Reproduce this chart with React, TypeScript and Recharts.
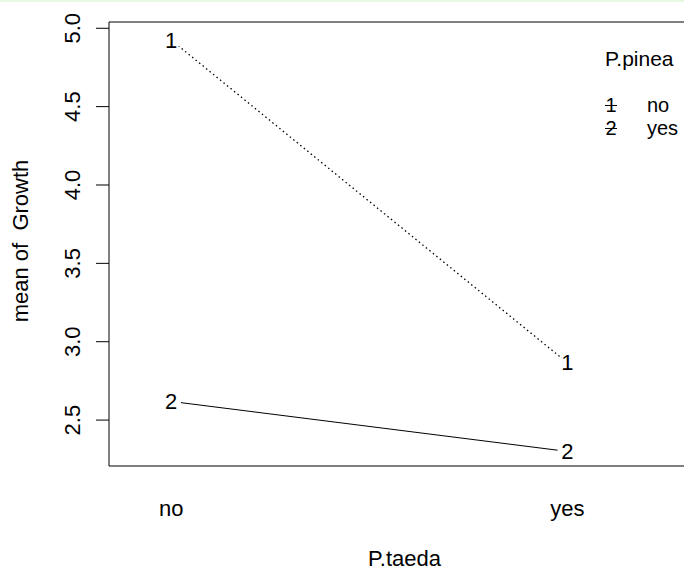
import React from 'react';
import { LineChart, Line, XAxis, YAxis, ReferenceArea } from 'recharts';

// interaction plot: mean of Growth by P.taeda, one trace per P.pinea level
const taedaLevels = ['no', 'yes'];
const pineaLevels = ['no', 'yes'];
const growthPineaNo = [4.925, 2.866];
const growthPineaYes = [2.619, 2.3];
const yTicks = [2.5, 3.0, 3.5, 4.0, 4.5, 5.0];

const X_DOMAIN: [number, number] = [0.843, 2.335];
const Y_DOMAIN: [number, number] = [2.207, 5.04];

const FONT = '"Liberation Sans", Arial, Helvetica, sans-serif';
const FS = 22;
const LEG_FS = 20;

const data = taedaLevels.map((lvl, i) => ({
  pos: i + 1,
  taeda: lvl,
  pNo: growthPineaNo[i],
  pYes: growthPineaYes[i],
}));

// R type="b": the level number sits on the point, line stops short of it
const pointLabel = (symbol: string) => (props: any) => {
  const { cx, cy, index } = props;
  const key = `pt-${symbol}-${index}`;
  if (cx == null || cy == null) return <g key={key} />;
  return (
    <g key={key}>
      <circle cx={cx} cy={cy} r={10} fill="#fff" />
      <text x={cx} y={cy} textAnchor="middle" dominantBaseline="central" fontSize={FS} fontFamily={FONT} fill="#000">
        {symbol}
      </text>
    </g>
  );
};

const YTick = (props: any) => {
  const { x, y, payload } = props;
  return (
    <text x={x} y={y} transform={`rotate(-90 ${x} ${y})`} textAnchor="middle" fontSize={FS} fontFamily={FONT} fill="#000">
      {Number(payload.value).toFixed(1)}
    </text>
  );
};

const XTick = (props: any) => {
  const { x, y, payload } = props;
  return (
    <text x={x} y={y + 50} textAnchor="middle" fontSize={FS} fontFamily={FONT} fill="#000">
      {taedaLevels[payload.value - 1]}
    </text>
  );
};

const PineaLegend = () => (
  <svg width={100} height={110} style={{ position: 'absolute', left: 595, top: 40, overflow: 'visible' }}>
    <text x={10} y={26} fontSize={LEG_FS + 1} fontFamily={FONT} fill="#000">P.pinea</text>
    {pineaLevels.map((lvl, i) => (
      <g key={lvl}>
        <text x={16} y={72 + i * 23} textAnchor="middle" fontSize={LEG_FS} fontFamily={FONT} fill="#000">{i + 1}</text>
        <line x1={10} x2={22} y1={65.5 + i * 23} y2={65.5 + i * 23} stroke="#000" strokeWidth={1} />
        <text x={52} y={72 + i * 23} fontSize={LEG_FS} fontFamily={FONT} fill="#000">{lvl}</text>
      </g>
    ))}
  </svg>
);

export default function App() {
  return (
    <div style={{ position: 'absolute', left: 0, top: 0, width: 684, height: 571, overflow: 'hidden', background: '#fff' }}>
      <div style={{ position: 'absolute', left: 0, top: 0, width: 684, height: 2, background: '#e8f8e1' }} />
      <LineChart width={760} height={571} data={data} margin={{ top: 22, right: 60, left: 0, bottom: 0 }}>
        <XAxis
          dataKey="pos"
          type="number"
          domain={X_DOMAIN}
          allowDataOverflow
          ticks={[1, 2]}
          tickSize={0}
          tickMargin={0}
          tickLine={false}
          axisLine={false}
          height={105}
          tick={<XTick />}
          label={{
            content: (p: any) => {
              const vb = p.viewBox || { x: 109, y: 466, width: 591 };
              return (
                <text x={vb.x + vb.width / 2} y={vb.y + 100} textAnchor="middle" fontSize={FS} fontFamily={FONT} fill="#000">
                  P.taeda
                </text>
              );
            },
          }}
        />
        <YAxis
          type="number"
          domain={Y_DOMAIN}
          allowDataOverflow
          ticks={yTicks}
          width={109}
          tickSize={13}
          tickMargin={16}
          tickLine={{ stroke: '#000' }}
          axisLine={false}
          tick={<YTick />}
          label={{
            content: (p: any) => {
              const vb = p.viewBox || { x: 0, y: 22, height: 444 };
              const cx = vb.x + 28;
              const cy = vb.y + vb.height / 2 - 3;
              return (
                <text
                  x={cx}
                  y={cy}
                  transform={`rotate(-90 ${cx} ${cy})`}
                  textAnchor="middle"
                  fontSize={FS}
                  fontFamily={FONT}
                  fill="#000"
                  style={{ whiteSpace: 'pre' }}
                >
                  {'mean of  Growth'}
                </text>
              );
            },
          }}
        />
        <ReferenceArea
          x1={X_DOMAIN[0]}
          x2={X_DOMAIN[1]}
          y1={Y_DOMAIN[0]}
          y2={Y_DOMAIN[1]}
          fill="none"
          stroke="#000"
          strokeWidth={1}
          ifOverflow="visible"
        />
        <Line
          dataKey="pNo"
          stroke="#000"
          strokeWidth={1.3}
          strokeDasharray="1.5 3"
          dot={pointLabel('1')}
          activeDot={false}
          isAnimationActive={false}
        />
        <Line
          dataKey="pYes"
          stroke="#000"
          strokeWidth={1}
          dot={pointLabel('2')}
          activeDot={false}
          isAnimationActive={false}
        />
      </LineChart>
      <PineaLegend />
    </div>
  );
}
